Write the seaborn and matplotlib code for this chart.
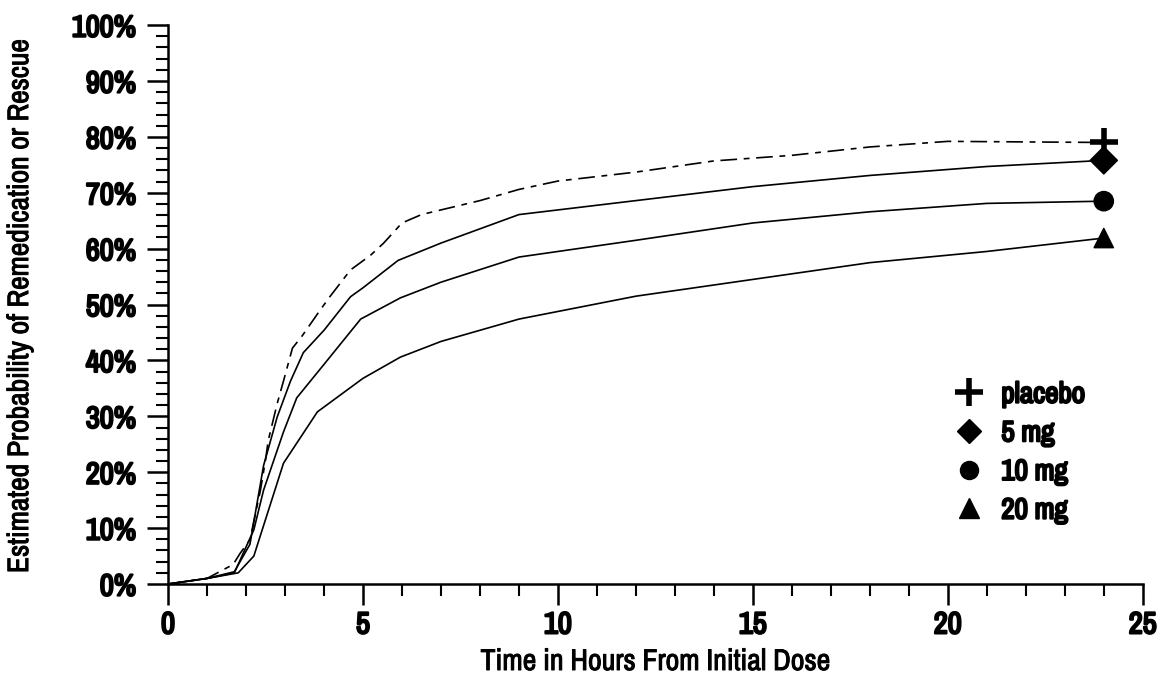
import pandas as pd
import numpy as np
import matplotlib
matplotlib.use("Agg")
import matplotlib.pyplot as plt
import matplotlib.patheffects as pe
import seaborn as sb
from matplotlib.ticker import MultipleLocator, FuncFormatter
from matplotlib.lines import Line2D

# Values (hours, percent)
placebo_hours = [0, 1.0, 1.67, 1.85, 2.1, 2.37, 2.5, 2.57, 2.8, 2.96, 3.19, 3.44, 3.9, 4.16, 4.68, 5.19, 5.53,
                 6.0, 6.5, 8.0, 9.0, 10.0, 12.0, 14.0, 16.0, 18.0, 20.0, 24.0]
placebo_pct = [0, 1.0, 3.5, 5.5, 7.9, 16.8, 22.2, 25.7, 32.3, 36.3, 42.2, 44.4, 49.0, 51.5, 56.2, 58.8, 61.0,
               64.6, 66.1, 68.6, 70.6, 72.1, 73.7, 75.7, 76.7, 78.2, 79.2, 79.0]

mg5_hours = [0, 1.0, 1.7, 2.1, 2.45, 2.8, 3.14, 3.47, 4.0, 4.68, 5.0, 5.9, 7.0, 9.0, 12.0, 15.0, 18.0, 21.0, 24.0]
mg5_pct = [0, 1.0, 2.2, 7.1, 21.2, 29.9, 36.3, 41.4, 45.4, 51.4, 53.0, 57.9, 61.0, 66.1, 68.6, 71.1, 73.1, 74.7, 75.8]

mg10_hours = [0, 1.0, 1.7, 2.2, 2.45, 2.96, 3.3, 4.0, 4.94, 5.96, 7.0, 9.0, 12.0, 15.0, 18.0, 21.0, 24.0]
mg10_pct = [0, 1.0, 2.0, 9.7, 16.8, 27.2, 33.3, 39.3, 47.4, 51.2, 54.0, 58.5, 61.5, 64.6, 66.6, 68.1, 68.5]

mg20_hours = [0, 1.0, 1.8, 2.2, 2.96, 3.83, 5.0, 5.96, 7.0, 9.0, 12.0, 15.0, 18.0, 21.0, 24.0]
mg20_pct = [0, 1.0, 2.0, 5.0, 21.6, 30.8, 36.8, 40.6, 43.4, 47.4, 51.5, 54.5, 57.5, 59.5, 61.9]

doses = ["placebo", "5 mg", "10 mg", "20 mg"]
end_hour = 24

frames = []
for dose, h, p in zip(doses, [placebo_hours, mg5_hours, mg10_hours, mg20_hours],
                      [placebo_pct, mg5_pct, mg10_pct, mg20_pct]):
    frames.append(pd.DataFrame({"hours": h, "pct": p, "dose": dose}))
data = pd.concat(frames, ignore_index=True)
ends = data[data["hours"] == end_hour]

sb.set_style("white")
plt.rcParams["font.family"] = ["Liberation Sans Narrow", "Arial Narrow", "Nimbus Sans Narrow", "Archivo Narrow",
                               "Roboto Condensed", "PT Sans Narrow", "IBM Plex Sans Condensed", "DejaVu Sans"]
plt.rcParams["text.color"] = "black"
plt.rcParams["axes.labelcolor"] = "black"
plt.rcParams["xtick.color"] = "black"
plt.rcParams["ytick.color"] = "black"

heavy = [pe.withStroke(linewidth=1.6, foreground="black")]
medium = [pe.withStroke(linewidth=0.7, foreground="black")]

fig = plt.figure(figsize=(11.59, 6.75), dpi=100)
ax = fig.add_axes([0.145, 0.1348, 0.841, 0.828])

sb.lineplot(data=data, x="hours", y="pct", style="dose", style_order=doses,
            dashes={"placebo": (10, 4, 3.5, 4), "5 mg": "", "10 mg": "", "20 mg": ""},
            color="black", linewidth=1.2, legend=False, ax=ax, estimator=None, sort=False)

# end-point markers
sb.scatterplot(data=ends[ends["dose"] != "placebo"], x="hours", y="pct", style="dose",
               style_order=["5 mg", "10 mg", "20 mg"], markers={"5 mg": "D", "10 mg": "o", "20 mg": "^"},
               s=190, color="black", edgecolor="black", legend=False, ax=ax, zorder=5)
sb.scatterplot(data=ends[ends["dose"] == "placebo"], x="hours", y="pct", marker="+",
               s=420, color="black", linewidth=4, legend=False, ax=ax, zorder=5)

ax.set_xlim(0, 25)
ax.set_ylim(0, 100)
ax.xaxis.set_major_locator(MultipleLocator(5))
ax.xaxis.set_minor_locator(MultipleLocator(1))
ax.yaxis.set_major_locator(MultipleLocator(10))
ax.yaxis.set_minor_locator(MultipleLocator(2))
ax.yaxis.set_major_formatter(FuncFormatter(lambda v, pos: f"{v:.0f}%"))

for side in ["top", "right"]:
    ax.spines[side].set_visible(False)
for side in ["left", "bottom"]:
    ax.spines[side].set_color("black")
    ax.spines[side].set_linewidth(1.8)

ax.tick_params(which="both", bottom=True, left=True, direction="out", color="black")
ax.tick_params(which="major", length=15, width=1.8, labelsize=22)
ax.tick_params(which="minor", length=8.5, width=1.5)
ax.tick_params(axis="x", which="major", pad=4)
ax.tick_params(axis="y", which="major", pad=8)
for lab in ax.get_xticklabels() + ax.get_yticklabels():
    lab.set_fontweight("bold")
    lab.set_path_effects(heavy)

ax.set_xlabel("Time in Hours From Initial Dose", fontsize=21.5, path_effects=medium)
ax.set_ylabel("Estimated Probability of Remedication or Rescue", fontsize=21.3, path_effects=medium)
ax.xaxis.set_label_coords(0.5, -0.1145)
ax.yaxis.set_label_coords(-0.1385, 0.497)

handles = [
    Line2D([], [], linestyle="", marker="+", markersize=20, markeredgewidth=4, color="black"),
    Line2D([], [], linestyle="", marker="D", markersize=12, color="black"),
    Line2D([], [], linestyle="", marker="o", markersize=13, color="black"),
    Line2D([], [], linestyle="", marker="^", markersize=15, color="black"),
]
leg = ax.legend(handles, doses, loc="upper left", bbox_to_anchor=(0.807, 0.364), frameon=False,
                handlelength=1.0, handletextpad=0.6, labelspacing=0.4, borderpad=0, borderaxespad=0,
                prop={"size": 21, "weight": "bold"})
for t in leg.get_texts():
    t.set_path_effects(heavy)

fig.savefig("out.png", dpi=100)
